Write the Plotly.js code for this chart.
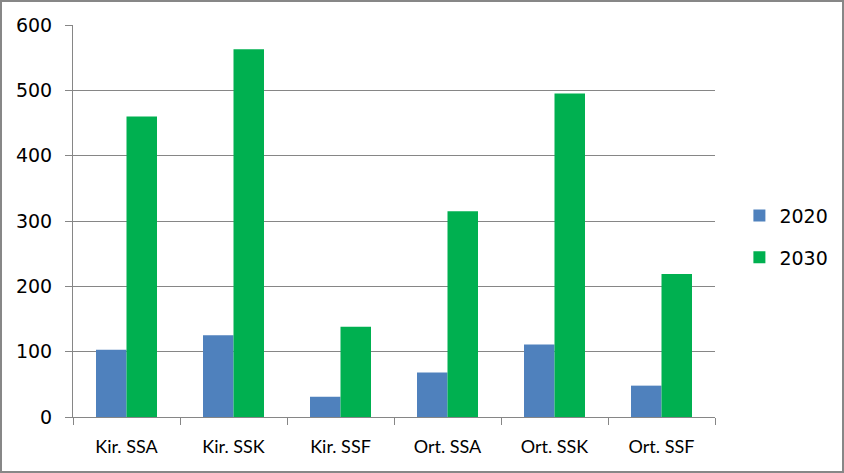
<!DOCTYPE html>
<html>
<head>
<meta charset="utf-8">
<script src="https://cdn.plot.ly/plotly-3.0.1.min.js"></script>
<style>
  html, body { margin: 0; padding: 0; background: #fff; }
  #frame { width: 844px; height: 473px; box-sizing: border-box; border: 2px solid #878787; }
  #chart { width: 840px; height: 469px; }
</style>
</head>
<body>
<div id="frame"><div id="chart"></div></div>
<script>
const categories = ["Kir. SSA", "Kir. SSK", "Kir. SSF", "Ort. SSA", "Ort. SSK", "Ort. SSF"];
const values2020 = [103, 125, 31, 68, 111, 48];
const values2030 = [460, 563, 138, 315, 495, 219];
const seriesNames = ["2020", "2030"];
const yTicks = [0, 100, 200, 300, 400, 500, 600];

const fontFam = "Lato, 'Open Sans', 'DejaVu Sans', sans-serif";
const numFam = "'DejaVu Sans', sans-serif";

const traces = [
  { type: "bar", name: seriesNames[0], x: categories, y: values2020,
    marker: { color: "#4F81BD" }, legendgroup: "a", hoverinfo: "none" },
  { type: "bar", name: seriesNames[1], x: categories, y: values2030,
    marker: { color: "#00B050" }, legendgroup: "b", hoverinfo: "none" }
];

const layout = {
  width: 840, height: 469,
  margin: { l: 71, r: 127, t: 23, b: 54, autoexpand: false },
  paper_bgcolor: "#ffffff", plot_bgcolor: "#ffffff",
  barmode: "group", bargap: 0.43, bargroupgap: 0,
  font: { family: fontFam, size: 17, color: "#000" },
  xaxis: {
    type: "category",
    showline: true, linecolor: "#868686", linewidth: 1,
    ticks: "outside", tickson: "boundaries", ticklen: 7, tickcolor: "#868686",
    ticklabelstandoff: 13,
    tickfont: { family: fontFam, size: 18, color: "#000" },
    showgrid: false, zeroline: false
  },
  yaxis: {
    range: [0, 600], tickvals: yTicks, ticktext: yTicks.map(String),
    showline: true, linecolor: "#868686", linewidth: 1,
    ticks: "outside", ticklen: 7, tickcolor: "#868686",
    showgrid: true, gridcolor: "#868686", gridwidth: 1,
    zeroline: false, ticklabelstandoff: 9,
    tickfont: { family: numFam, size: 19, color: "#000" }
  },
  showlegend: true,
  legend: {
    x: 1.038, xanchor: "left", y: 0.46, yanchor: "middle",
    traceorder: "grouped", tracegroupgap: 14,
    font: { family: numFam, size: 19, color: "#000" },
    itemwidth: 30, bgcolor: "rgba(0,0,0,0)"
  }
};

Plotly.newPlot("chart", traces, layout, { displayModeBar: false, staticPlot: true });
</script>
</body>
</html>
